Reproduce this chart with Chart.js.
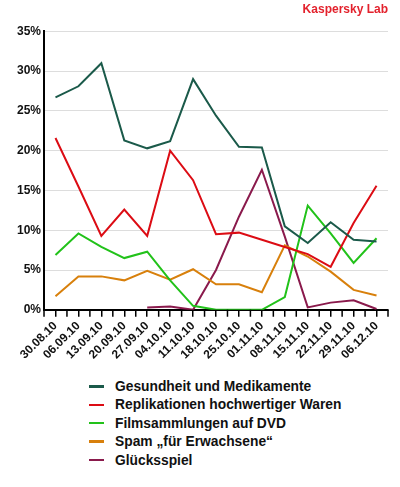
<!DOCTYPE html>
<html>
<head>
<meta charset="utf-8">
<script src="https://cdn.jsdelivr.net/npm/chart.js@4"></script>
<style>
  html, body { margin: 0; padding: 0; background: #fff; }
  #wrap { position: relative; width: 400px; height: 487px; }
  #box { position: absolute; left: 0; top: 0; width: 400px; height: 364px; }
  #legend { position: absolute; left: 89px; top: 378px; font: bold 13.8px "Liberation Sans", Arial, sans-serif; color: #111; }
  #legend div { height: 18.4px; line-height: 18.4px; white-space: nowrap; }
  #legend span { display: inline-block; width: 15px; height: 2.5px; vertical-align: middle; margin-right: 11px; position: relative; top: -1px; }
</style>
</head>
<body>
<div id="wrap">
  <div id="box"><canvas id="chart"></canvas></div>
  <div id="legend"></div>
</div>
<script>
var weeks = ["30.08.10", "06.09.10", "13.09.10", "20.09.10", "27.09.10", "04.10.10", "11.10.10", "18.10.10",
             "25.10.10", "01.11.10", "08.11.10", "15.11.10", "22.11.10", "29.11.10", "06.12.10"];

var gesundheit = [26.7, 28.1, 31.0, 21.3, 20.3, 21.2, 29.0, 24.4, 20.5, 20.4, 10.5, 8.4, 11.0, 8.8, 8.6];
var replikationen = [21.6, 15.5, 9.3, 12.6, 9.3, 20.0, 16.3, 9.5, 9.7, 8.8, 7.9, 7.0, 5.4, 10.9, 15.6];
var filme = [6.9, 9.6, 7.9, 6.5, 7.3, 3.7, 0.5, 0.0, 0.0, 0.0, 1.6, 13.1, 9.6, 5.9, 9.0];
var spam = [1.7, 4.2, 4.2, 3.7, 4.9, 3.8, 5.1, 3.2, 3.2, 2.2, 8.1, 6.7, 4.8, 2.5, 1.8];
var gluecksspiel = [null, null, null, null, 0.3, 0.4, 0.0, 5.0, 11.7, 17.6, 9.2, 0.3, 0.9, 1.2, 0.1];

var seriesNames = ["Gesundheit und Medikamente", "Replikationen hochwertiger Waren", "Filmsammlungen auf DVD",
                   "Spam \u201Ef\u00FCr Erwachsene\u201C", "Gl\u00FCcksspiel"];
var seriesColors = ["#1b5a4a", "#dc0c14", "#22c21a", "#d8800c", "#8a1a4c"];
var seriesData = [gesundheit, replikationen, filme, spam, gluecksspiel];

var font = "'Liberation Sans', Arial, sans-serif";

// small tick marks between the weeks as well
var halfTicks = {
    id: "halfTicks",
    afterDraw: function(chart) {
        var x = chart.scales.x;
        var ctx = chart.ctx;
        var step = x.getPixelForValue(1) - x.getPixelForValue(0);
        ctx.save();
        ctx.strokeStyle = "#000";
        ctx.lineWidth = 1.5;
        ctx.beginPath();
        for (let i = 0; i <= weeks.length; i++) {
            var px = x.getPixelForValue(0) + (i - 0.5) * step;
            ctx.moveTo(px, x.top);
            ctx.lineTo(px, x.top + 7);
        }
        ctx.stroke();
        ctx.restore();
    }
};

var datasets = [];
for (let i = 0; i < seriesNames.length; i++) {
    datasets.push({
        label: seriesNames[i],
        data: seriesData[i],
        borderColor: seriesColors[i],
        backgroundColor: seriesColors[i],
        borderWidth: 2,
        pointRadius: 0,
        tension: 0,
        fill: false,
    });
}

const ctx = document.getElementById("chart").getContext("2d");
const myChart = new Chart(ctx, {
    type: "line",
    data: {
        labels: weeks,
        datasets: datasets,
    },
    options: {
        responsive: true,
        maintainAspectRatio: false,
        animation: false,
        layout: {
            padding: { left: 14, right: 12, top: 0, bottom: 0 },
        },
        plugins: {
            legend: { display: false },
            tooltip: { enabled: false },
            title: {
                display: true,
                text: "Kaspersky Lab",
                align: "end",
                color: "#e3222d",
                font: { family: font, size: 12, weight: "bold" },
                padding: { top: 2, bottom: 15 },
            },
        },
        scales: {
            x: {
                offset: true,
                grid: {
                    offset: false,
                    drawOnChartArea: false,
                    drawTicks: true,
                    tickLength: 7,
                    color: "#000",
                    lineWidth: 1.5,
                },
                border: { color: "#000", width: 2 },
                ticks: {
                    color: "#111",
                    maxRotation: 45,
                    minRotation: 45,
                    autoSkip: false,
                    padding: 2,
                    font: { family: font, size: 12, weight: "bold" },
                },
            },
            y: {
                min: 0,
                max: 35,
                grid: {
                    color: "#dddddd",
                    lineWidth: 1,
                    drawTicks: false,
                },
                border: { color: "#000", width: 2 },
                ticks: {
                    stepSize: 5,
                    padding: 3,
                    color: "#111",
                    font: { family: font, size: 12, weight: "bold" },
                    callback: function(v) { return v + "%"; },
                },
            },
        },
    },
    plugins: [halfTicks],
});

var legendBox = document.getElementById("legend");
myChart.data.datasets.forEach(function(ds) {
    var row = document.createElement("div");
    var line = document.createElement("span");
    line.style.background = ds.borderColor;
    row.appendChild(line);
    row.appendChild(document.createTextNode(ds.label));
    legendBox.appendChild(row);
});
</script>
</body>
</html>
